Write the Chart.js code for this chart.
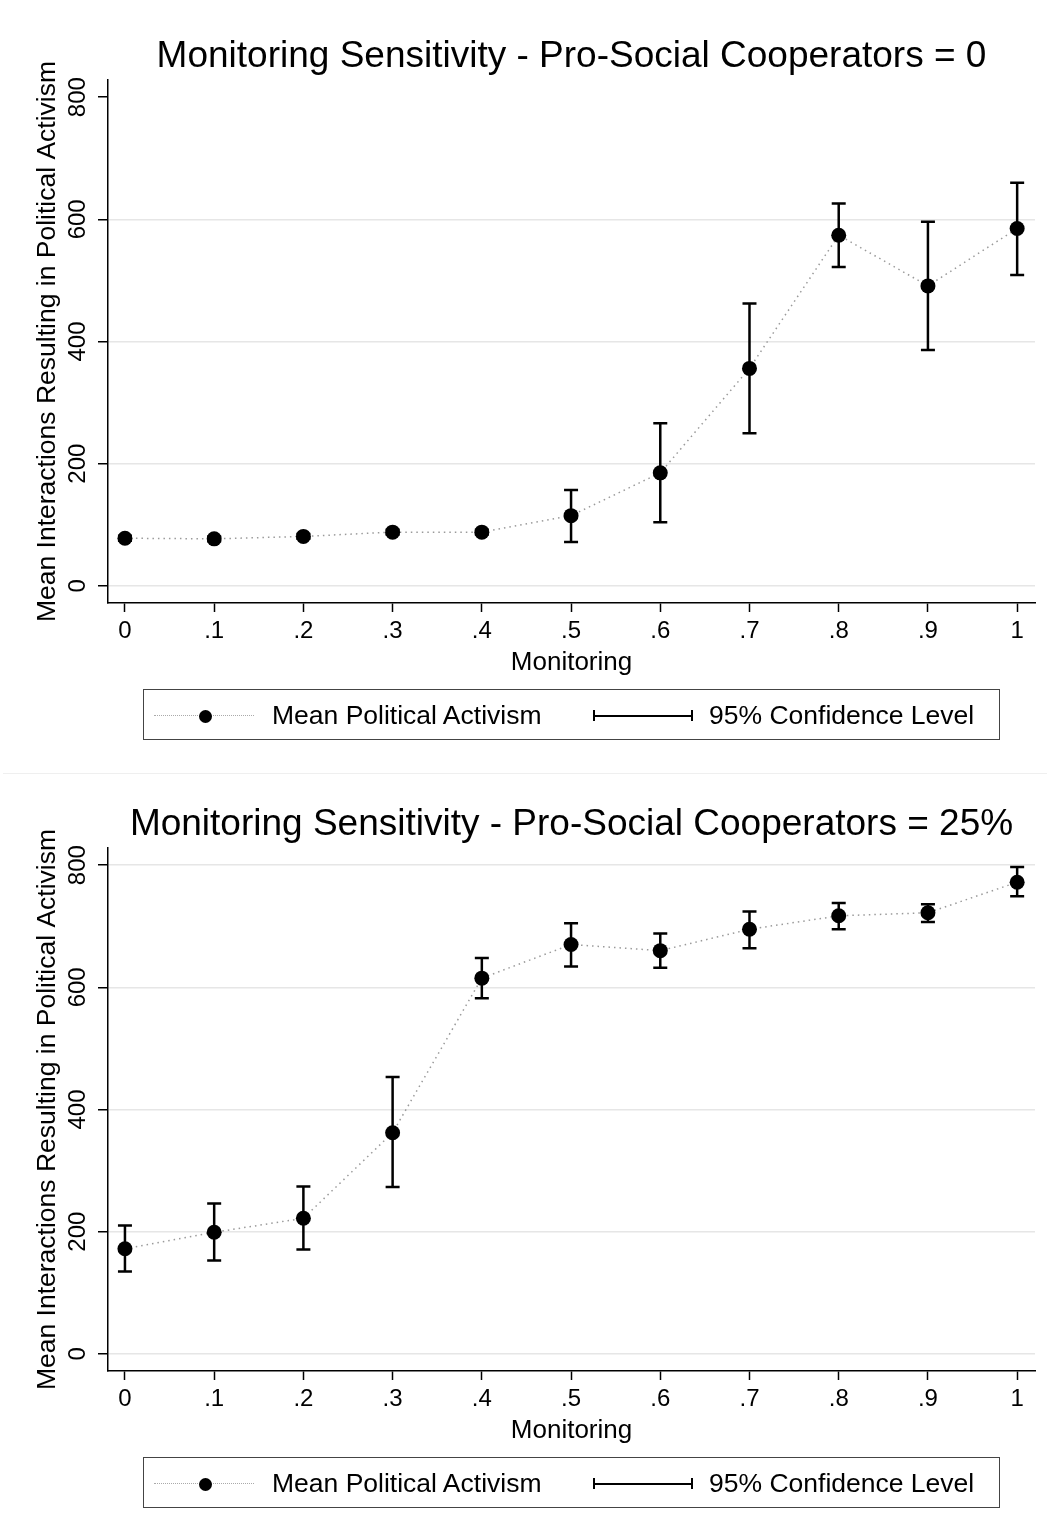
<!DOCTYPE html>
<html>
<head>
<meta charset="utf-8">
<script src="https://cdn.jsdelivr.net/npm/chart.js"></script>
<style>
  body { margin: 0; background: #fff; font-family: "Liberation Sans", Arial, Helvetica, sans-serif; }
  .panel { position: relative; width: 1047px; height: 768px; }
  .sep { position: absolute; left: 3px; right: 0; top: 773px; height: 1px; background: #efefef; }
  .legend { position: absolute; left: 143px; top: 689px; width: 857px; height: 51px;
            border: 1.5px solid #444; box-sizing: border-box; }
  .legend .dots { position: absolute; left: 10px; top: 25px; width: 100px; border-top: 1.5px dotted #aaa; }
  .legend .dot { position: absolute; left: 55px; top: 20px; width: 13px; height: 13px; border-radius: 50%; background: #000; }
  .legend .bar { position: absolute; left: 449px; top: 20px; width: 100px; height: 11px;
                 border-left: 2px solid #000; border-right: 2px solid #000; box-sizing: border-box; }
  .legend .bar::after { content: ""; position: absolute; left: 0; right: 0; top: 4.5px; border-top: 2px solid #000; }
  .legend .txt { position: absolute; top: 10px; font-size: 26.5px; line-height: 30px; color: #000; }
</style>
</head>
<body>
<div class="panel">
  <canvas id="chartZero" width="1047" height="768"></canvas>
  <div class="legend">
    <div class="dots"></div><div class="dot"></div>
    <div class="txt" style="left:128px">Mean Political Activism</div>
    <div class="bar"></div>
    <div class="txt" style="left:565px">95% Confidence Level</div>
  </div>
</div>
<div class="panel">
  <canvas id="chartQuarter" width="1047" height="768"></canvas>
  <div class="legend">
    <div class="dots"></div><div class="dot"></div>
    <div class="txt" style="left:128px">Mean Political Activism</div>
    <div class="bar"></div>
    <div class="txt" style="left:565px">95% Confidence Level</div>
  </div>
</div>
<div class="sep"></div>
<script>
// x axis values and labels
var monitoring = [0, 0.1, 0.2, 0.3, 0.4, 0.5, 0.6, 0.7, 0.8, 0.9, 1];
var xTickLabels = ["0", ".1", ".2", ".3", ".4", ".5", ".6", ".7", ".8", ".9", "1"];
var yTicks = [0, 200, 400, 600, 800];
var yTickLabels = ["0", "200", "400", "600", "800"];

// Pro-Social Cooperators = 0
var meanZero = [78, 77, 81, 88, 88, 115, 185, 356, 574, 491, 585];
var lowZero = [74, 73, 77, 84, 84, 72, 104, 250, 522, 386, 509];
var highZero = [82, 81, 85, 92, 92, 157, 266, 462, 626, 596, 660];

// Pro-Social Cooperators = 25%
var meanQuarter = [172, 199, 222, 362, 615, 670, 660, 695, 717, 722, 772];
var lowQuarter = [135, 153, 171, 273, 582, 634, 632, 664, 695, 707, 749];
var highQuarter = [210, 246, 274, 453, 648, 705, 688, 724, 738, 736, 797];

Chart.defaults.font.family = "'Liberation Sans', Arial, Helvetica, sans-serif";
Chart.defaults.color = "#000";

//ERROR BARS + ROTATED Y LABELS
var errorBars = {
  id: "errorBars",
  beforeDatasetsDraw: function (chart, args, opts) {
    var ctx = chart.ctx, x = chart.scales.x, y = chart.scales.y;
    ctx.save();
    ctx.strokeStyle = "#000";
    ctx.lineWidth = 2.5;
    opts.low.forEach(function (lo, i) {
      var px = x.getPixelForValue(monitoring[i]);
      var pl = y.getPixelForValue(lo);
      var ph = y.getPixelForValue(opts.high[i]);
      ctx.beginPath();
      ctx.moveTo(px, pl); ctx.lineTo(px, ph);
      ctx.moveTo(px - 7, pl); ctx.lineTo(px + 7, pl);
      ctx.moveTo(px - 7, ph); ctx.lineTo(px + 7, ph);
      ctx.stroke();
    });
    ctx.restore();
  },
  afterDraw: function (chart) {
    var ctx = chart.ctx, y = chart.scales.y;
    ctx.save();
    ctx.fillStyle = "#000";
    ctx.font = "24px 'Liberation Sans', Arial, sans-serif";
    ctx.textAlign = "center";
    ctx.textBaseline = "middle";
    yTicks.forEach(function (v, i) {
      ctx.save();
      ctx.translate(78, y.getPixelForValue(v));
      ctx.rotate(-Math.PI / 2);
      ctx.fillText(yTickLabels[i], 0, 0);
      ctx.restore();
    });
    ctx.restore();
  }
};

function makeChart(id, title, means, lows, highs, gridAtTop) {
  var points = monitoring.map(function (m, i) { return { x: m, y: means[i] }; });
  return new Chart(document.getElementById(id).getContext("2d"), {
    type: "scatter",
    data: {
      datasets: [{
        data: points,
        showLine: true,
        borderColor: "#9a9a9a",
        borderWidth: 1.5,
        borderDash: [1.5, 4],
        pointRadius: 7.5,
        pointHoverRadius: 7.5,
        pointBackgroundColor: "#000",
        pointBorderWidth: 0
      }]
    },
    options: {
      responsive: false,
      animation: false,
      layout: { padding: { left: 0, right: 12, top: 0, bottom: 90 } },
      plugins: {
        legend: { display: false },
        tooltip: { enabled: false },
        title: {
          display: true,
          text: title,
          fullSize: false,
          color: "#000",
          font: { size: 37, weight: "normal", lineHeight: 1.2 },
          padding: { top: 35, bottom: 0.6 }
        },
        errorBars: { low: lows, high: highs }
      },
      scales: {
        x: {
          type: "linear",
          min: -0.019,
          max: 1.02,
          afterBuildTicks: function (axis) {
            axis.ticks = monitoring.map(function (v) { return { value: v }; });
          },
          afterFit: function (axis) { axis.height = 75; },
          ticks: {
            padding: 5,
            font: { size: 24 },
            color: "#000",
            maxRotation: 0,
            autoSkip: false,
            callback: function (val, i) { return xTickLabels[i]; }
          },
          grid: { drawOnChartArea: false, tickLength: 9, tickColor: "#000", tickWidth: 1.5 },
          border: { color: "#000", width: 1.5 },
          title: {
            display: true,
            text: "Monitoring",
            color: "#000",
            font: { size: 26, lineHeight: 1.2 },
            padding: { top: 0, bottom: 0 }
          }
        },
        y: {
          min: -28,
          max: 828,
          afterBuildTicks: function (axis) {
            axis.ticks = yTicks.map(function (v) { return { value: v }; });
          },
          afterFit: function (axis) { axis.width = 108; },
          ticks: { display: false },
          grid: {
            color: function (c) {
              if (c.tick && c.tick.value === 800 && !gridAtTop) return "rgba(0,0,0,0)";
              return "#e6e6e6";
            },
            lineWidth: 1.5,
            tickLength: 10,
            tickColor: "#000",
            tickWidth: 1.5
          },
          border: { color: "#000", width: 1.5 },
          title: {
            display: true,
            text: "Mean Interactions Resulting in Political Activism",
            color: "#000",
            font: { size: 26.5, lineHeight: 1.2 },
            padding: { top: 32, bottom: 0 }
          }
        }
      }
    },
    plugins: [errorBars]
  });
}

makeChart("chartZero", "Monitoring Sensitivity - Pro-Social Cooperators = 0",
  meanZero, lowZero, highZero, false);
makeChart("chartQuarter", "Monitoring Sensitivity - Pro-Social Cooperators = 25%",
  meanQuarter, lowQuarter, highQuarter, true);
</script>
</body>
</html>
